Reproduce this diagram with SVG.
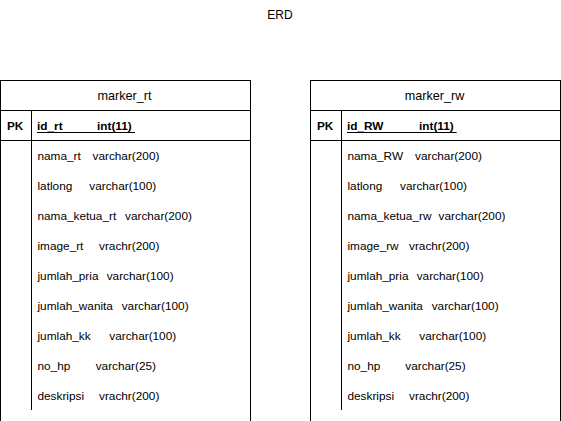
<svg xmlns="http://www.w3.org/2000/svg" width="561" height="421" viewBox="0 0 561 421">
<style>
.box{fill:#fff;stroke:#000;stroke-width:1}
.ln{stroke:#000;stroke-width:1;fill:none}
text{font-family:"Liberation Sans",Arial,sans-serif;fill:#000}
.t{font-size:11.8px}
.h{font-size:12.6px;text-anchor:middle}
.pk{font-size:11.8px;font-weight:bold}
</style>
<rect width="561" height="421" fill="#fff"/>
<text x="280" y="19" class="h" style="font-size:12px">ERD</text>
<g id="marker_rt">
<rect class="box" x="0.5" y="80.5" width="250" height="350"/>
<line class="ln" x1="0.5" y1="110.5" x2="250.5" y2="110.5"/>
<line class="ln" x1="0.5" y1="140.5" x2="250.5" y2="140.5"/>
<line class="ln" x1="31.5" y1="110.5" x2="31.5" y2="410"/>
<text x="124.5" y="100" class="h">marker_rt</text>
<text x="7" y="130" class="pk">PK</text>
<text y="130" class="pk"><tspan x="37">id_rt</tspan><tspan x="97">int(11)</tspan></text>
<line class="ln" x1="37" y1="132.5" x2="135" y2="132.5"/>
<text class="t" y="160"><tspan x="37.5">nama_rt</tspan><tspan x="92.5">varchar(200)</tspan></text>
<text class="t" y="190"><tspan x="37.5">latlong</tspan><tspan x="89.3">varchar(100)</tspan></text>
<text class="t" y="220"><tspan x="37.5">nama_ketua_rt</tspan><tspan x="125">varchar(200)</tspan></text>
<text class="t" y="250"><tspan x="37.5">image_rt</tspan><tspan x="99">vrachr(200)</tspan></text>
<text class="t" y="280"><tspan x="37.5">jumlah_pria</tspan><tspan x="106.7">varchar(100)</tspan></text>
<text class="t" y="310"><tspan x="37.5">jumlah_wanita</tspan><tspan x="121.7">varchar(100)</tspan></text>
<text class="t" y="340"><tspan x="37.5">jumlah_kk</tspan><tspan x="109.3">varchar(100)</tspan></text>
<text class="t" y="370"><tspan x="37.5">no_hp</tspan><tspan x="95.7">varchar(25)</tspan></text>
<text class="t" y="400"><tspan x="37.5">deskripsi</tspan><tspan x="99">vrachr(200)</tspan></text>
</g>
<g id="marker_rw">
<rect class="box" x="310.5" y="80.5" width="250" height="350"/>
<line class="ln" x1="310.5" y1="110.5" x2="560.5" y2="110.5"/>
<line class="ln" x1="310.5" y1="140.5" x2="560.5" y2="140.5"/>
<line class="ln" x1="341.5" y1="110.5" x2="341.5" y2="410"/>
<text x="434.5" y="100" class="h">marker_rw</text>
<text x="317" y="130" class="pk">PK</text>
<text y="130" class="pk"><tspan x="347">id_RW</tspan><tspan x="419">int(11)</tspan></text>
<line class="ln" x1="347" y1="132.5" x2="456.7" y2="132.5"/>
<text class="t" y="160"><tspan x="347.5">nama_RW</tspan><tspan x="415">varchar(200)</tspan></text>
<text class="t" y="190"><tspan x="347.5">latlong</tspan><tspan x="400">varchar(100)</tspan></text>
<text class="t" y="220"><tspan x="347.5">nama_ketua_rw</tspan><tspan x="438.5">varchar(200)</tspan></text>
<text class="t" y="250"><tspan x="347.5">image_rw</tspan><tspan x="409">vrachr(200)</tspan></text>
<text class="t" y="280"><tspan x="347.5">jumlah_pria</tspan><tspan x="416.7">varchar(100)</tspan></text>
<text class="t" y="310"><tspan x="347.5">jumlah_wanita</tspan><tspan x="431.7">varchar(100)</tspan></text>
<text class="t" y="340"><tspan x="347.5">jumlah_kk</tspan><tspan x="419.3">varchar(100)</tspan></text>
<text class="t" y="370"><tspan x="347.5">no_hp</tspan><tspan x="405.3">varchar(25)</tspan></text>
<text class="t" y="400"><tspan x="347.5">deskripsi</tspan><tspan x="409">vrachr(200)</tspan></text>
</g>
<g id="connectors"></g>
</svg>
